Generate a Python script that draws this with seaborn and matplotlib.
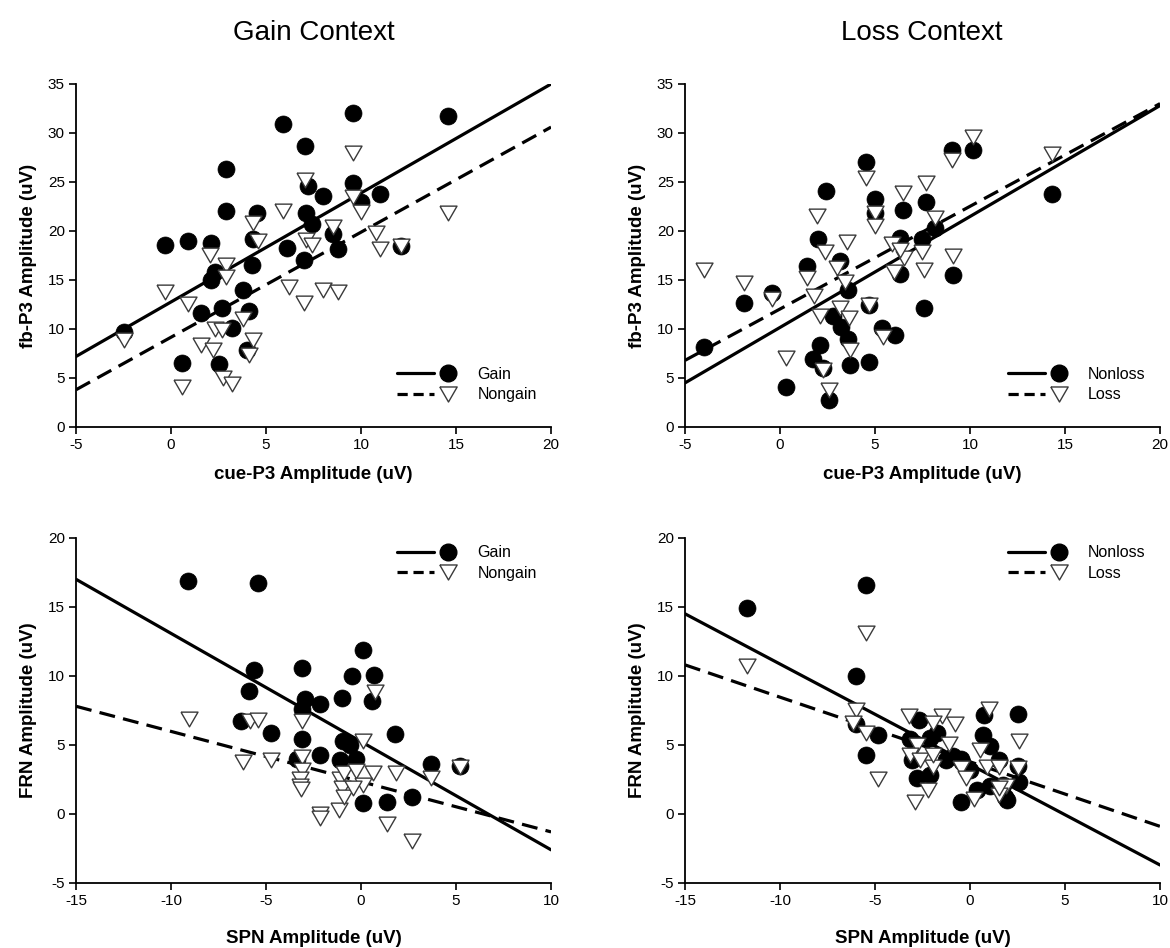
import matplotlib
matplotlib.use("Agg")
import matplotlib.pyplot as plt
import seaborn as sns
from matplotlib.lines import Line2D
from matplotlib.legend_handler import HandlerTuple

# ---- data ----
# Gain context, cue-P3 vs fb-P3
gain_cue = [-2.5, -0.3, 0.9, 2.1, 0.6, 2.5, 1.6, 2.7, 4.1, 3.2, 4.0, 3.8, 2.3, 2.1, 4.25, 2.9, 2.9, 4.5, 4.3,
            5.9, 7.05, 7.2, 8.0, 7.1, 7.4, 8.5, 6.1, 8.8, 7.0, 9.6, 14.6, 9.6, 11.0, 10.0, 12.1]
gain_fbp3 = [9.7, 18.6, 19.0, 18.8, 6.5, 6.4, 11.6, 12.1, 11.8, 10.1, 7.9, 14.0, 15.8, 15.0, 16.5, 26.3, 22.0, 21.8, 19.2,
             30.9, 28.7, 24.6, 23.6, 21.8, 20.7, 19.7, 18.3, 18.2, 17.0, 32.0, 31.7, 24.9, 23.8, 23.0, 18.5]
nongain_cue = [-2.5, -0.3, 0.9, 0.6, 2.75, 3.2, 1.6, 2.2, 2.3, 2.7, 3.8, 4.3, 4.1, 2.05, 2.9, 2.9, 4.3,
               4.6, 5.9, 7.05, 8.5, 7.1, 7.4, 6.2, 7.0, 8.0, 8.8, 9.6, 9.6, 10.0, 14.6, 10.8, 11.0, 12.1]
nongain_fbp3 = [8.9, 13.8, 12.6, 4.1, 5.0, 4.4, 8.4, 7.9, 10.0, 9.9, 11.0, 8.9, 7.3, 17.6, 16.5, 15.3, 20.8,
                19.0, 22.0, 25.2, 20.4, 19.1, 18.6, 14.3, 12.7, 14.0, 13.8, 28.0, 23.5, 21.9, 21.8, 19.8, 18.2, 18.5]

# Loss context, cue-P3 vs fb-P3
nonloss_cue = [-4.0, -1.9, -0.4, 0.3, 1.4, 2.1, 1.75, 2.25, 2.6, 2.0, 2.4, 3.15, 3.6, 2.8, 3.2, 3.6, 3.7, 4.7,
               4.7, 4.55, 5.0, 5.0, 6.45, 6.3, 7.45, 7.7, 8.15, 9.05, 10.15, 14.3, 6.3, 9.1, 7.6, 5.35, 6.05]
nonloss_fbp3 = [8.2, 12.7, 13.7, 4.1, 16.4, 8.4, 6.9, 6.0, 2.8, 19.2, 24.1, 16.9, 14.0, 11.3, 10.2, 9.0, 6.3, 6.6,
                12.4, 27.0, 23.3, 21.8, 22.1, 19.3, 19.2, 23.0, 20.3, 28.3, 28.3, 23.8, 15.6, 15.5, 12.1, 10.1, 9.4]
loss_cue = [-4.0, -1.9, -0.4, 0.3, 1.4, 1.8, 2.1, 2.25, 2.6, 2.35, 1.95, 3.0, 3.4, 3.15, 3.65, 3.7, 3.5, 4.55,
            4.7, 5.0, 5.0, 5.4, 6.0, 6.5, 5.9, 6.3, 7.45, 7.6, 9.1, 6.45, 7.7, 8.15, 9.05, 10.15, 14.3]
loss_fbp3 = [16.0, 14.7, 13.1, 7.0, 15.2, 13.4, 11.3, 5.8, 3.8, 17.9, 21.5, 16.2, 14.8, 12.1, 11.1, 7.9, 18.9, 25.4,
             12.4, 21.8, 20.5, 9.2, 15.8, 17.2, 18.7, 18.1, 17.9, 16.0, 17.4, 23.9, 24.9, 21.3, 27.2, 29.6, 27.9]

# Gain context, SPN vs FRN
gain_spn = [-9.1, -5.4, -5.65, -5.9, -6.3, -4.75, -3.1, 0.1, -0.5, 0.7, -1.0, 0.6, -3.1, -2.95, -2.15,
            -3.1, -2.15, -3.35, -0.95, -0.6, -0.25, -1.1, 1.8, 3.7, 5.2, 0.1, 1.35, 2.7]
gain_frn = [16.9, 16.7, 10.4, 8.9, 6.7, 5.9, 10.6, 11.9, 10.0, 10.1, 8.4, 8.2, 7.6, 8.3, 8.0,
            5.4, 4.3, 4.0, 5.3, 5.0, 4.0, 3.9, 5.8, 3.6, 3.5, 0.8, 0.9, 1.2]
nongain_spn = [-9.05, -5.85, -5.4, -6.2, -4.75, -3.1, -3.1, -3.1, -3.2, -3.2, -3.15, -2.15, -2.15, -1.15, -1.1,
               -1.0, -0.9, -0.9, -0.25, 0.1, 0.65, 0.1, -0.4, 0.75, 1.85, 3.7, 5.2, 1.35, 2.7]
nongain_frn = [6.9, 6.7, 6.8, 3.8, 3.9, 6.7, 4.1, 3.2, 2.5, 2.0, 1.8, 0.0, -0.3, 0.3, 2.5,
               1.85, 1.25, 3.0, 3.1, 5.3, 3.0, 2.1, 1.85, 8.8, 3.0, 2.6, 3.4, -0.75, -1.95]

# Loss context, SPN vs FRN
nonloss_spn = [-11.75, -5.45, -6.0, -5.45, -4.85, -6.0, -2.7, -2.1, -1.75, -3.15, -3.05, -2.8, -2.1, -1.25, -0.9,
               -0.5, 0.0, -0.45, 0.75, 0.7, 1.05, 1.5, 0.35, 1.05, 1.75, 1.85, 2.5, 2.55, 2.6, 1.95, -0.4]
nonloss_frn = [14.9, 16.6, 10.0, 4.3, 5.7, 6.5, 6.8, 5.5, 5.85, 5.4, 3.9, 2.6, 2.8, 3.9, 4.2,
               4.0, 3.2, 0.9, 7.2, 5.7, 4.9, 3.9, 1.75, 2.0, 2.1, 1.25, 7.25, 3.5, 2.3, 1.0, 3.8]
loss_spn = [-11.75, -5.45, -6.0, -6.15, -5.45, -4.85, -3.2, -1.45, -0.8, -1.95, -2.8, -1.1, -3.15, -2.65, -1.95,
            -1.95, -0.45, -0.2, 0.55, 1.0, 0.9, 1.55, 1.9, -2.2, -2.9, 0.2, 1.5, 2.6, 2.55, 1.55]
loss_frn = [10.7, 13.1, 7.5, 6.6, 5.9, 2.5, 7.1, 7.1, 6.5, 6.6, 5.0, 5.1, 4.3, 3.9, 3.4,
            4.3, 3.3, 2.6, 4.6, 7.6, 3.4, 3.4, 2.0, 1.7, 0.9, 1.1, 1.4, 5.3, 3.3, 1.85]

# regression lines: y at the left and right end of the x axis
fit_gain_p3 = [7.2, 35.0]
fit_nongain_p3 = [3.8, 30.6]
fit_nonloss_p3 = [4.5, 32.8]
fit_loss_p3 = [6.8, 33.0]
fit_gain_frn = [17.0, -2.6]
fit_nongain_frn = [7.8, -1.3]
fit_nonloss_frn = [14.5, -3.7]
fit_loss_frn = [10.8, -0.9]

sns.set_style("ticks")
plt.rcParams['font.family'] = ['Liberation Sans', 'DejaVu Sans']
plt.rcParams['axes.unicode_minus'] = False
plt.rcParams['text.color'] = 'black'
plt.rcParams['axes.labelcolor'] = 'black'
plt.rcParams['xtick.color'] = 'black'
plt.rcParams['ytick.color'] = 'black'
plt.rcParams['axes.edgecolor'] = 'black'

tri = [(-1, 0.866), (1, 0.866), (0, -0.866), (-1, 0.866)]   # downward triangle marker
DASH = (5, 2.6)


def panel(ax, x1, y1, x2, y2, fit1, fit2, xlim, ylim, xlabel, ylabel, names, leg_loc, leg_anchor, xlabelpad):
    sns.scatterplot(x=x1, y=y1, ax=ax, marker='o', s=150, color='black', edgecolor='black',
                    linewidth=0.5, clip_on=False, zorder=3)
    sns.scatterplot(x=x2, y=y2, ax=ax, marker=tri, s=150, color='white', edgecolor='#3a3a3a',
                    linewidth=1.0, clip_on=False, zorder=4)
    sns.lineplot(x=xlim, y=fit1, ax=ax, color='black', lw=2.3, zorder=2)
    sns.lineplot(x=xlim, y=fit2, ax=ax, color='black', lw=2.3, zorder=2)
    ax.lines[-1].set_dashes(DASH)
    ax.set_xlim(xlim)
    ax.set_ylim(ylim)
    ax.set_xticks(range(xlim[0], xlim[1] + 1, 5))
    ax.set_yticks(range(ylim[0], ylim[1] + 1, 5))
    ax.set_xlabel(xlabel, fontsize=13.5, fontweight='bold', labelpad=xlabelpad)
    ax.set_ylabel(ylabel, fontsize=13.5, fontweight='bold', labelpad=8)
    ax.tick_params(direction='out', length=5, width=1.2, labelsize=11, pad=3)
    for s in ['left', 'bottom']:
        ax.spines[s].set_linewidth(1.3)
    sns.despine(ax=ax)

    h1 = (Line2D([], [], color='black', lw=2.3),
          Line2D([], [], marker='o', ls='none', ms=12, mfc='black', mec='black'))
    l2 = Line2D([], [], color='black', lw=2.3)
    l2.set_dashes((3.2, 1.8))
    h2 = (l2, Line2D([], [], marker=tri, ls='none', ms=12.5, mfc='white', mec='#3a3a3a', mew=1.0))
    ax.legend([h1, h2], names, handler_map={tuple: HandlerTuple(ndivide=None, pad=-0.3)},
              loc=leg_loc, bbox_to_anchor=leg_anchor, frameon=False, fontsize=11.5,
              handlelength=4.3, handletextpad=0.7, labelspacing=0.35)


fig = plt.figure(figsize=(11.7, 9.48), dpi=100)
ax1 = fig.add_axes([0.065, 0.5496, 0.406, 0.3618])
ax2 = fig.add_axes([0.5855, 0.5496, 0.406, 0.3618])
ax3 = fig.add_axes([0.065, 0.0686, 0.406, 0.364])
ax4 = fig.add_axes([0.5855, 0.0686, 0.406, 0.364])

panel(ax1, gain_cue, gain_fbp3, nongain_cue, nongain_fbp3, fit_gain_p3, fit_nongain_p3,
      [-5, 20], [0, 35], 'cue-P3 Amplitude (uV)', 'fb-P3 Amplitude (uV)',
      ['Gain', 'Nongain'], 'lower right', (1.0, 0.03), 10)
panel(ax2, nonloss_cue, nonloss_fbp3, loss_cue, loss_fbp3, fit_nonloss_p3, fit_loss_p3,
      [-5, 20], [0, 35], 'cue-P3 Amplitude (uV)', 'fb-P3 Amplitude (uV)',
      ['Nonloss', 'Loss'], 'lower right', (1.0, 0.03), 10)
panel(ax3, gain_spn, gain_frn, nongain_spn, nongain_frn, fit_gain_frn, fit_nongain_frn,
      [-15, 10], [-5, 20], 'SPN Amplitude (uV)', 'FRN Amplitude (uV)',
      ['Gain', 'Nongain'], 'upper right', (1.0, 1.02), 16)
panel(ax4, nonloss_spn, nonloss_frn, loss_spn, loss_frn, fit_nonloss_frn, fit_loss_frn,
      [-15, 10], [-5, 20], 'SPN Amplitude (uV)', 'FRN Amplitude (uV)',
      ['Nonloss', 'Loss'], 'upper right', (1.0, 1.02), 16)

fig.text(0.268, 0.965, 'Gain Context', ha='center', va='center', fontsize=20)
fig.text(0.788, 0.965, 'Loss Context', ha='center', va='center', fontsize=20)

fig.savefig('out.png', dpi=100)
